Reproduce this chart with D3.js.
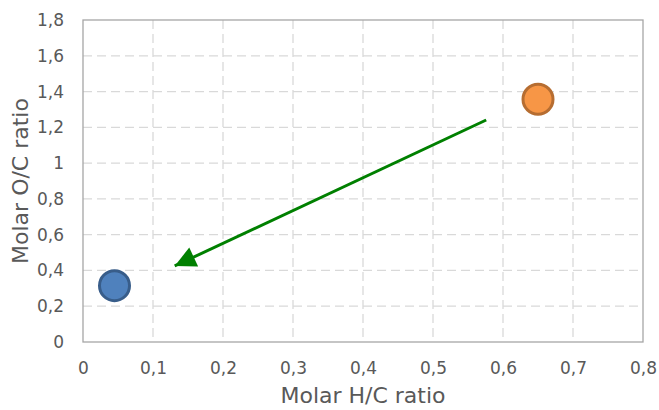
<!DOCTYPE html>
<html>
<head>
<meta charset="utf-8">
<script src="https://cdn.jsdelivr.net/npm/d3@7"></script>
<style>
  html, body { margin: 0; padding: 0; background: #ffffff; }
  svg { display: block; }
  text { font-family: "DejaVu Sans", sans-serif; fill: #595959; }
</style>
</head>
<body>
<svg id="chart" width="659" height="410"></svg>
<script>
// Samples: molar H/C vs O/C ratios
const sampleNames = ["Product", "Feedstock"];
const hcRatio = [0.045, 0.65];
const ocRatio = [0.315, 1.357];
const fillColors = ["#4f81bd", "#f79646"];
const strokeColors = ["#385d8a", "#b66d31"];

// Trend arrow (start -> tip), in data units
const arrowX = [0.576, 0.131];
const arrowY = [1.241, 0.425];

// Axis ticks
const xTicks = [0, 0.1, 0.2, 0.3, 0.4, 0.5, 0.6, 0.7, 0.8];
const yTicks = [0, 0.2, 0.4, 0.6, 0.8, 1, 1.2, 1.4, 1.6, 1.8];

const xTitle = "Molar H/C ratio";
const yTitle = "Molar O/C ratio";

const locale = d3.formatLocale({ decimal: ",", thousands: ".", grouping: [3], currency: ["", "€"] });
const fmt = v => locale.format("~g")(+v.toFixed(2));

const svg = d3.select("#chart");
const plot = { left: 83, right: 643, top: 20, bottom: 342 };

const x = d3.scaleLinear().domain([0, 0.8]).range([plot.left, plot.right]);
const y = d3.scaleLinear().domain([0, 1.8]).range([plot.bottom, plot.top]);

// Dashed grid
const grid = svg.append("g");
grid.selectAll("line.vx").data(xTicks.slice(1, -1)).join("line")
  .attr("x1", d => x(d)).attr("x2", d => x(d))
  .attr("y1", plot.top).attr("y2", plot.bottom)
  .attr("stroke", "#d9d9d9").attr("stroke-width", 1.3).attr("stroke-dasharray", "9,5");
grid.selectAll("line.hy").data(yTicks.slice(1, -1)).join("line")
  .attr("x1", plot.left).attr("x2", plot.right)
  .attr("y1", d => y(d)).attr("y2", d => y(d))
  .attr("stroke", "#d9d9d9").attr("stroke-width", 1.3).attr("stroke-dasharray", "9,5");

// Plot frame
svg.append("rect")
  .attr("x", plot.left).attr("y", plot.top)
  .attr("width", plot.right - plot.left).attr("height", plot.bottom - plot.top)
  .attr("fill", "none").attr("stroke", "#a6a6a6").attr("stroke-width", 1.3);

// Axes (labels only; frame drawn above)
const xAxis = d3.axisBottom(x).tickValues(xTicks).tickFormat(fmt).tickSize(0).tickPadding(20);
const yAxis = d3.axisLeft(y).tickValues(yTicks).tickFormat(fmt).tickSize(0).tickPadding(19);

const gx = svg.append("g").attr("transform", `translate(0,${plot.bottom})`).call(xAxis);
const gy = svg.append("g").attr("transform", `translate(${plot.left},0)`).call(yAxis);
[gx, gy].forEach(g => {
  g.attr("font-size", null).attr("font-family", null);
  g.select(".domain").remove();
  g.selectAll("text").style("font-size", "17px").attr("fill", "#595959");
});

// Axis titles
svg.append("text")
  .attr("x", (plot.left + plot.right) / 2).attr("y", 403)
  .attr("text-anchor", "middle").style("font-size", "22px")
  .text(xTitle);
svg.append("text")
  .attr("transform", `translate(28,${(plot.top + plot.bottom) / 2}) rotate(-90)`)
  .attr("text-anchor", "middle").style("font-size", "22px")
  .text(yTitle);

// Arrow
const defs = svg.append("defs");
defs.append("marker")
  .attr("id", "arrowhead")
  .attr("viewBox", "0 0 10 10")
  .attr("refX", 10).attr("refY", 5)
  .attr("markerWidth", 7.5).attr("markerHeight", 7)
  .attr("markerUnits", "strokeWidth")
  .attr("orient", "auto")
  .append("path").attr("d", "M0,0 L10,5 L0,10 Z").attr("fill", "#008000");

svg.append("line")
  .attr("x1", x(arrowX[0])).attr("y1", y(arrowY[0]))
  .attr("x2", x(arrowX[1])).attr("y2", y(arrowY[1]))
  .attr("stroke", "#008000").attr("stroke-width", 3)
  .attr("marker-end", "url(#arrowhead)");

// Points
svg.append("g").selectAll("circle").data(sampleNames).join("circle")
  .attr("cx", (d, i) => x(hcRatio[i]))
  .attr("cy", (d, i) => y(ocRatio[i]))
  .attr("r", 15)
  .attr("fill", (d, i) => fillColors[i])
  .attr("stroke", (d, i) => strokeColors[i])
  .attr("stroke-width", 3);
</script>
</body>
</html>
